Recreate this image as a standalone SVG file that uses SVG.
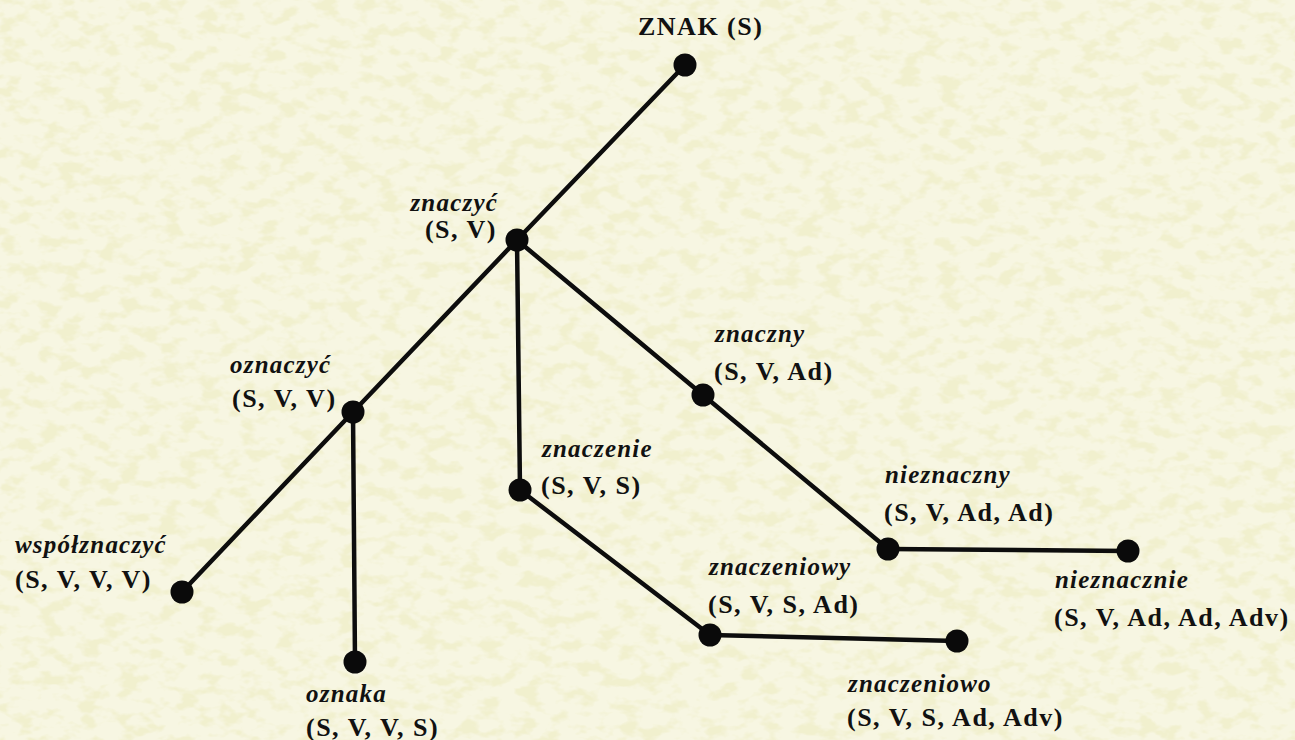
<svg xmlns="http://www.w3.org/2000/svg" width="1295" height="740" viewBox="0 0 1295 740">
<defs>
<filter id="tex" x="0" y="0" width="100%" height="100%" filterUnits="userSpaceOnUse">
<feTurbulence type="fractalNoise" baseFrequency="0.05 0.08" numOctaves="3" seed="7" result="n"/>
<feColorMatrix in="n" type="matrix" values="0 0 0 0 0.88  0 0 0 0 0.87  0 0 0 0 0.62  5 0 0 0 -2.4"/>
</filter>
<style>
.edge{stroke:#0d0d0d;stroke-width:4.5;stroke-linecap:round;fill:none}
.dot{fill:#0a0a0a}
.w{font-family:"Liberation Serif","Times New Roman",serif;font-weight:bold;font-style:italic;font-size:25px;letter-spacing:1.2px;fill:#111}
.f{font-family:"Liberation Serif","Times New Roman",serif;font-weight:bold;font-size:26px;letter-spacing:1.5px;fill:#111}
</style>
</defs>
<rect width="1295" height="740" fill="#f7f6e2"/>
<rect width="1295" height="740" fill="#fff" filter="url(#tex)"/>
<g id="connectors">
<line class="edge" x1="685" y1="65" x2="517" y2="240"/>
<line class="edge" x1="517" y1="240" x2="353" y2="412"/>
<line class="edge" x1="517" y1="240" x2="520" y2="490"/>
<line class="edge" x1="517" y1="240" x2="703" y2="395"/>
<line class="edge" x1="353" y1="412" x2="182" y2="592"/>
<line class="edge" x1="353" y1="412" x2="355" y2="662"/>
<line class="edge" x1="520" y1="490" x2="710" y2="635"/>
<line class="edge" x1="710" y1="635" x2="957" y2="641"/>
<line class="edge" x1="703" y1="395" x2="888" y2="549"/>
<line class="edge" x1="888" y1="549" x2="1128" y2="551"/>
</g>
<g id="znak"><circle class="dot" cx="685" cy="65" r="11.5"/><text class="f" x="638" y="35">ZNAK (S)</text></g>
<g id="znaczyc"><circle class="dot" cx="517" cy="240" r="11.5"/><text class="w" x="498" y="211" text-anchor="end">znaczyć</text><text class="f" x="497" y="238" text-anchor="end">(S, V)</text></g>
<g id="oznaczyc"><circle class="dot" cx="353" cy="412" r="11.5"/><text class="w" x="230" y="373">oznaczyć</text><text class="f" x="232" y="407">(S, V, V)</text></g>
<g id="wspolznaczyc"><circle class="dot" cx="182" cy="592" r="11.5"/><text class="w" x="15" y="553">współznaczyć</text><text class="f" x="15" y="588">(S, V, V, V)</text></g>
<g id="oznaka"><circle class="dot" cx="355" cy="662" r="11.5"/><text class="w" x="306" y="702">oznaka</text><text class="f" x="306" y="736">(S, V, V, S)</text></g>
<g id="znaczenie"><circle class="dot" cx="520" cy="490" r="11.5"/><text class="w" x="542" y="457">znaczenie</text><text class="f" x="541" y="494">(S, V, S)</text></g>
<g id="znaczny"><circle class="dot" cx="703" cy="395" r="11.5"/><text class="w" x="715" y="342">znaczny</text><text class="f" x="714" y="380">(S, V, Ad)</text></g>
<g id="znaczeniowy"><circle class="dot" cx="710" cy="635" r="11.5"/><text class="w" x="709" y="575">znaczeniowy</text><text class="f" x="708" y="613">(S, V, S, Ad)</text></g>
<g id="znaczeniowo"><circle class="dot" cx="957" cy="641" r="11.5"/><text class="w" x="848" y="692">znaczeniowo</text><text class="f" x="847" y="726">(S, V, S, Ad, Adv)</text></g>
<g id="nieznaczny"><circle class="dot" cx="888" cy="549" r="11.5"/><text class="w" x="885" y="483">nieznaczny</text><text class="f" x="884" y="521">(S, V, Ad, Ad)</text></g>
<g id="nieznacznie"><circle class="dot" cx="1128" cy="551" r="11.5"/><text class="w" x="1055" y="588">nieznacznie</text><text class="f" x="1054" y="626">(S, V, Ad, Ad, Adv)</text></g>
</svg>
